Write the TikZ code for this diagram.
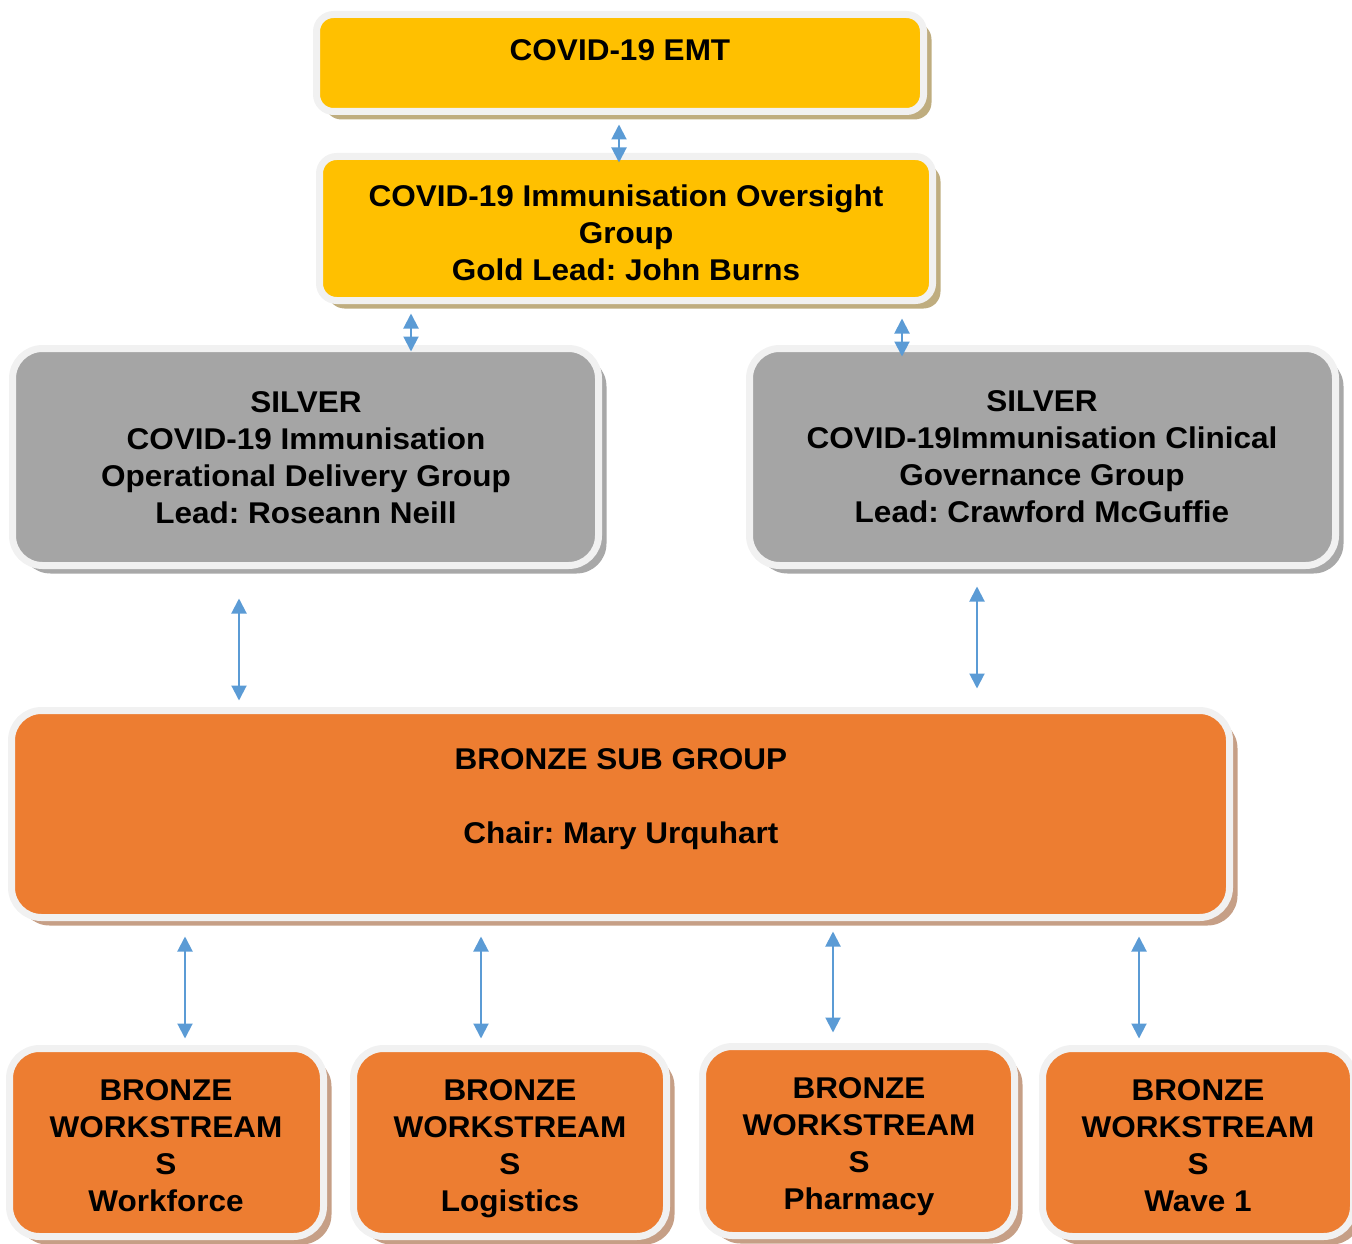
\documentclass[tikz,border=0pt]{standalone}
\usepackage{fontspec}
\setmainfont[FakeStretch=1.05]{Liberation Sans}
\usetikzlibrary{arrows.meta,shadows,calc}
\definecolor{gold}{HTML}{FFC000}
\definecolor{goldsh}{HTML}{BFAD7F}
\definecolor{silv}{HTML}{A5A5A5}
\definecolor{silvsh}{HTML}{A8A8A8}
\definecolor{bronze}{HTML}{ED7D31}
\definecolor{bronzesh}{HTML}{C69F86}
\definecolor{rim}{HTML}{F1F1F1}
\definecolor{link}{HTML}{5B9BD5}
\frenchspacing
\begin{document}
\begin{tikzpicture}[x=1pt,y=-1pt,
  box/.style={draw=rim, line width=7pt, inner sep=0pt, rectangle},
  goldbox/.style={box, fill=gold, rounded corners=17pt,
    drop shadow={shadow xshift=8pt, shadow yshift=-8pt, fill=goldsh, opacity=1}},
  silvbox/.style={box, fill=silv, rounded corners=30pt,
    drop shadow={shadow xshift=8pt, shadow yshift=-8pt, fill=silvsh, opacity=1}},
  brzbox/.style={box, fill=bronze, rounded corners=30pt,
    drop shadow={shadow xshift=8pt, shadow yshift=-8pt, fill=bronzesh, opacity=1}},
  lbl/.style={anchor=north, inner sep=0pt, align=center,
    font=\frenchspacing\fontsize{30}{37}\selectfont\bfseries},
  arr/.style={draw=link, line width=2pt, {Triangle[width=15pt,length=15pt]}-{Triangle[width=15pt,length=15pt]}}
]
\useasboundingbox (0,0) rectangle (1352,1244);

% boxes
\node[goldbox, minimum width=607pt, minimum height=97pt] (emt) at (620,63) {};
\node[goldbox, minimum width=613pt, minimum height=144pt] (ovs) at (626,228.5) {};
\node[silvbox, minimum width=586pt, minimum height=217pt] (silL) at (305.5,457) {};
\node[silvbox, minimum width=586pt, minimum height=217pt] (silR) at (1042.5,457) {};
\node[brzbox, minimum width=1218pt, minimum height=207pt] (bsub) at (620.5,814) {};
\node[brzbox, minimum width=314pt, minimum height=188pt] (ws1) at (166.5,1142.5) {};
\node[brzbox, minimum width=313pt, minimum height=188pt] (ws2) at (510,1142.5) {};
\node[brzbox, minimum width=312pt, minimum height=189pt] (ws3) at (858.5,1141) {};
\node[brzbox, minimum width=311pt, minimum height=188pt] (ws4) at (1198,1142.5) {};

% labels
\node[lbl] (emtT) at (620,39.5) {COVID-19 EMT};
\node[lbl] (ovsT) at (626,185) {COVID-19 Immunisation Oversight\\Group\\Gold Lead: John Burns};
\node[lbl] (silLT) at (306,391) {SILVER\\COVID-19 Immunisation\\Operational Delivery Group\\Lead: Roseann Neill};
\node[lbl] (silRT) at (1042,390) {SILVER\\COVID-19Immunisation Clinical\\Governance Group\\Lead: Crawford McGuffie};
\node[lbl] (bsubT) at (621,748) {BRONZE SUB GROUP\\[37pt]Chair: Mary Urquhart};
\node[lbl] (ws1T) at (166,1079) {BRONZE\\WORKSTREAM\\S\\Workforce};
\node[lbl] (ws2T) at (510,1079) {BRONZE\\WORKSTREAM\\S\\Logistics};
\node[lbl] (ws3T) at (859,1077) {BRONZE\\WORKSTREAM\\S\\Pharmacy};
\node[lbl] (ws4T) at (1198,1079) {BRONZE\\WORKSTREAM\\S\\Wave 1};

% connectors
\draw[arr] ($(emt.south)+(-1,9.5)$) -- ($(ovs.north)+(-7,9.5)$);
\draw[arr] ($(ovs.south)+(-215,9.5)$) -- ($(silL.north)+(105.5,6.5)$);
\draw[arr] ($(ovs.south)+(276,14.5)$) -- ($(silR.north)+(-140.5,11.5)$);
\draw[arr] ($(silL.south)+(-66.5,29.5)$) -- ($(bsub.north)+(-381.5,-6.5)$);
\draw[arr] ($(silR.south)+(-65.5,17.5)$) -- ($(bsub.north)+(356.5,-18.5)$);
\draw[arr] ($(bsub.south)+(-435.5,15.5)$) -- ($(ws1.north)+(18.5,-6.5)$);
\draw[arr] ($(bsub.south)+(-139.5,15.5)$) -- ($(ws2.north)+(-29,-6.5)$);
\draw[arr] ($(bsub.south)+(212.5,10.5)$) -- ($(ws3.north)+(-25.5,-10.5)$);
\draw[arr] ($(bsub.south)+(518.5,15.5)$) -- ($(ws4.north)+(-59,-6.5)$);
\end{tikzpicture}
\end{document}
